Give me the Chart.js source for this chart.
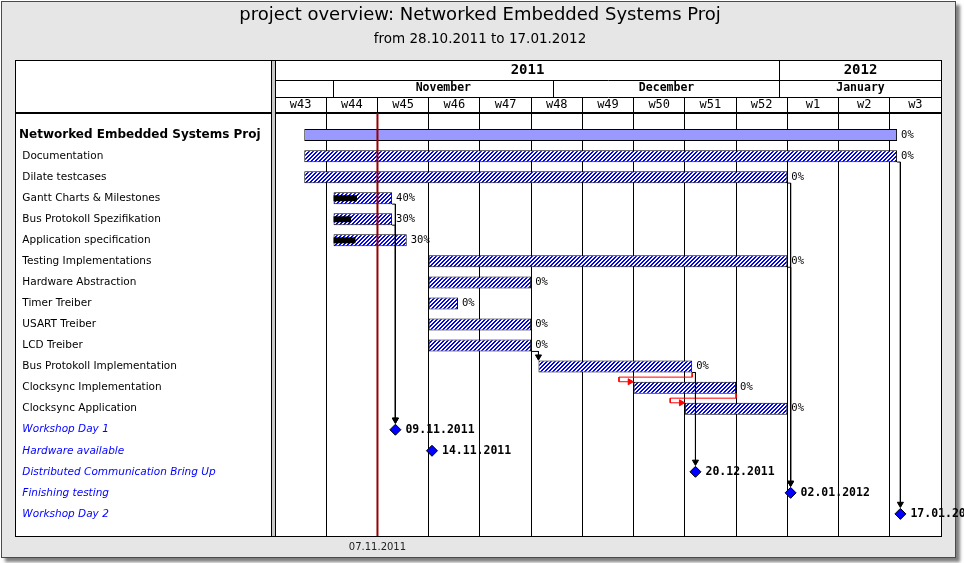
<!DOCTYPE html>
<html>
<head>
<meta charset="utf-8">
<script src="https://cdn.jsdelivr.net/npm/chart.js@4.4.0/dist/chart.umd.min.js"></script>
<style>
  html, body { margin: 0; padding: 0; background: #fff; }
</style>
</head>
<body>
<canvas id="gantt" width="964" height="563"></canvas>
<script>
// all dates are counted in days after Monday 24.10.2011 (start of w43)
const rowNames = [
  'Networked Embedded Systems Proj', 'Documentation', 'Dilate testcases',
  'Gantt Charts & Milestones', 'Bus Protokoll Spezifikation', 'Application specification',
  'Testing Implementations', 'Hardware Abstraction', 'Timer Treiber', 'USART Treiber',
  'LCD Treiber', 'Bus Protokoll Implementation', 'Clocksync Implementation',
  'Clocksync Application', 'Workshop Day 1', 'Hardware available',
  'Distributed Communication Bring Up', 'Finishing testing', 'Workshop Day 2'
];
const taskStart = [4, 4, 4, 8, 8, 8, 21, 21, 21, 21, 21, 36, 49, 56];
const taskEnd   = [85, 85, 70, 16, 16, 18, 70, 35, 25, 35, 35, 57, 63, 70];
const taskDone  = [0, 0, 0, 40, 30, 30, 0, 0, 0, 0, 0, 0, 0, 0];

const milestoneRows = [14, 15, 16, 17, 18];
const milestoneDay  = [16.45, 21.45, 57.45, 70.45, 85.45];
const milestoneDate = ['09.11.2011', '14.11.2011', '20.12.2011', '02.01.2012', '17.01.2012'];

// [from row, to row, kind]  ms = end -> milestone, fs = end -> start, late = red (violated)
const links = [
  [3, 14, 'ms'], [4, 14, 'ms'], [10, 11, 'fs'], [11, 16, 'ms'],
  [2, 17, 'ms'], [6, 17, 'ms'], [1, 18, 'ms'],
  [11, 12, 'late'], [12, 13, 'late']
];

const lastDay = 91;
const weekEdges = [0, 7, 14, 21, 28, 35, 42, 49, 56, 63, 70, 77, 84, 91];
const weekNames = ['w43', 'w44', 'w45', 'w46', 'w47', 'w48', 'w49', 'w50', 'w51', 'w52', 'w1', 'w2', 'w3'];
const monthEdges = [0, 8, 38, 69, 91];
const monthNames = ['', 'November', 'December', 'January'];
const yearEdges = [0, 69, 91];
const yearNames = ['2011', '2012'];

const todayDay = 14;
const todayText = '07.11.2011';

// ---- helpers ----
function hatch() {
  const c = document.createElement('canvas');
  c.width = 4; c.height = 4;
  const g = c.getContext('2d');
  g.fillStyle = '#ffffff'; g.fillRect(0, 0, 4, 4);
  g.fillStyle = '#0000ff';
  for (let i = 0; i < 4; i++) {
    g.fillRect(i, 3 - i, 1, 1);
    g.fillRect((i + 1) % 4, 3 - i, 1, 1);
  }
  return g.createPattern(c, 'repeat');
}
const stripes = hatch();

// header ticks: edges (drawn as separators) + centers (labels)
function headerTicks(edges) {
  const t = [];
  for (let i = 0; i < edges.length - 1; i++) {
    t.push({ value: edges[i], edge: true });
    t.push({ value: (edges[i] + edges[i + 1]) / 2, name: i });
  }
  t.push({ value: edges[edges.length - 1], edge: true });
  return t;
}
const monthTicks = headerTicks(monthEdges);
const yearTicks = headerTicks(yearEdges);

const BAR_HALF = 0.28; // half bar height in row units

const linkLines = [];
const arrowPts = [], arrowRot = [], arrowCol = [];
links.forEach(([from, to, kind]) => {
  const e = taskEnd[from];
  const yOut = from + BAR_HALF;
  if (kind === 'late') {
    const s = taskStart[to];
    const yIn = to - BAR_HALF;
    linkLines.push({ color: '#ff0000', pts: [
      { x: e, y: yOut }, { x: e, y: from + 0.5 }, { x: s - 2, y: from + 0.5 },
      { x: s - 2, y: yIn }, { x: s - 0.5, y: yIn }
    ] });
    arrowPts.push({ x: s - 0.5, y: yIn }); arrowRot.push(90); arrowCol.push('#ff0000');
  } else {
    const target = kind === 'ms' ? milestoneDay[milestoneRows.indexOf(to)] : taskStart[to];
    const tipY = to - 0.47;
    linkLines.push({ color: '#000000', pts: [
      { x: e, y: yOut }, { x: target, y: yOut }, { x: target, y: tipY }
    ] });
    arrowPts.push({ x: target, y: tipY }); arrowRot.push(180); arrowCol.push('#000000');
  }
});

const barData = taskStart.map((s, i) => ({ x: [s, taskEnd[i]], y: i }));
const doneData = [];
taskDone.forEach((d, i) => {
  if (d > 0) doneData.push({ x: [taskStart[i], taskStart[i] + (taskEnd[i] - taskStart[i]) * d / 100], y: i });
});

const datasets = [
  {
    type: 'line', label: 'today', order: 0,
    data: [{ x: todayDay, y: -1.05 }, { x: todayDay, y: 19.05 }],
    borderColor: '#990000', borderWidth: 2, pointRadius: 0, fill: false
  },
  {
    type: 'scatter', label: 'milestones', order: 1, showLine: false,
    data: milestoneDay.map((d, i) => ({ x: d, y: milestoneRows[i] })),
    pointStyle: 'rectRot', pointRadius: 5.5, pointHoverRadius: 5.5,
    pointBackgroundColor: '#0000ff', pointBorderColor: '#000', pointBorderWidth: 1
  },
  {
    type: 'scatter', label: 'arrows', order: 2, showLine: false,
    data: arrowPts,
    pointStyle: 'triangle', pointRadius: 3.5, pointHoverRadius: 3.5, pointRotation: arrowRot,
    pointBackgroundColor: arrowCol, pointBorderColor: arrowCol, pointBorderWidth: 1
  }
];
linkLines.forEach((l, i) => datasets.push({
  type: 'line', label: 'link' + i, order: 3, data: l.pts,
  borderColor: l.color, borderWidth: 1, pointRadius: 0, fill: false, tension: 0
}));
datasets.push({
  type: 'bar', label: 'done', order: 4, indexAxis: 'y', grouped: false,
  data: doneData, backgroundColor: '#000', maxBarThickness: 6, borderWidth: 0
});
datasets.push({
  type: 'bar', label: 'tasks', order: 5, indexAxis: 'y', grouped: false,
  data: barData,
  backgroundColor: barData.map((b, i) => i === 0 ? '#9999ff' : stripes),
  borderColor: '#000', borderWidth: 1, borderSkipped: false, maxBarThickness: 12
});
const taskSet = datasets.length - 1;

// ---- plugins ----
const frame = {
  id: 'frame',
  beforeDraw(chart) {
    const { ctx, width, height, chartArea } = chart;
    const top = chart.scales.xYear.top;
    const left = chart.scales.y.left - 4;
    ctx.save();
    ctx.fillStyle = '#ffffff';
    ctx.fillRect(0, 0, width, height);
    ctx.shadowColor = 'rgba(0,0,0,0.5)';
    ctx.shadowBlur = 3; ctx.shadowOffsetX = 4; ctx.shadowOffsetY = 4;
    ctx.fillStyle = '#e6e6e6';
    ctx.fillRect(1, 1, 955, 557);
    ctx.shadowColor = 'transparent';
    ctx.strokeStyle = '#4a4a4a'; ctx.lineWidth = 1;
    ctx.strokeRect(1.5, 1.5, 954, 556);
    ctx.fillStyle = '#ffffff';
    ctx.fillRect(left, top, chartArea.right - left, chartArea.bottom - top);
    ctx.restore();
  },
  afterDraw(chart) {
    const { ctx, chartArea } = chart;
    const top = chart.scales.xYear.top;
    const left = chart.scales.y.left - 4;
    ctx.save();
    ctx.fillStyle = '#c8c8c8';
    ctx.fillRect(chartArea.left - 3, top, 3, chartArea.bottom - top);
    ctx.strokeStyle = '#000'; ctx.lineWidth = 1;
    ctx.strokeRect(left + 0.5, top + 0.5, chartArea.right - left, chartArea.bottom - top);
    ctx.beginPath();
    ctx.moveTo(chartArea.left - 3.5, top); ctx.lineTo(chartArea.left - 3.5, chartArea.bottom);
    ctx.stroke();
    ctx.lineWidth = 2;
    ctx.beginPath();
    ctx.moveTo(left, chartArea.top); ctx.lineTo(chartArea.left - 3, chartArea.top);
    ctx.stroke();
    ctx.restore();
  }
};

const texts = {
  id: 'texts',
  afterDatasetsDraw(chart) {
    const ctx = chart.ctx;
    ctx.save();
    ctx.textBaseline = 'middle';
    ctx.fillStyle = '#000';
    // percent done next to each bar
    ctx.font = '10.5px "DejaVu Sans Mono"';
    chart.getDatasetMeta(taskSet).data.forEach((b, i) => {
      ctx.fillText(taskDone[i] + '%', Math.max(b.x, b.base) + 4, b.y);
    });
    // milestone dates
    ctx.font = 'bold 11.5px "DejaVu Sans Mono"';
    chart.getDatasetMeta(1).data.forEach((p, i) => {
      ctx.fillText(milestoneDate[i], p.x + 10, p.y);
    });
    // today marker text
    ctx.font = '10px "DejaVu Sans"';
    ctx.fillStyle = '#222';
    ctx.textAlign = 'center';
    ctx.fillText(todayText, chart.scales.x.getPixelForValue(todayDay), chart.chartArea.bottom + 11);
    ctx.restore();
  }
};

function rowFont(i) {
  if (i === 0) return { family: 'DejaVu Sans', size: 12, weight: 'bold' };
  if (i >= 14) return { family: 'DejaVu Sans', size: 10.5, style: 'italic' };
  return { family: 'DejaVu Sans', size: 10.5 };
}

Chart.defaults.font.family = 'DejaVu Sans';

new Chart(document.getElementById('gantt').getContext('2d'), {
  type: 'bar',
  data: { datasets: datasets },
  options: {
    responsive: false,
    devicePixelRatio: 1,
    animation: false,
    events: [],
    layout: { padding: { left: 19, right: 23, top: 0, bottom: 27 } },
    plugins: {
      legend: { display: false },
      tooltip: { enabled: false },
      title: {
        display: true, text: 'project overview: Networked Embedded Systems Proj', color: '#000',
        font: { size: 18, weight: 'normal' }, padding: { top: 5, bottom: 2 }
      },
      subtitle: {
        display: true, text: 'from 28.10.2011 to 17.01.2012', color: '#000',
        font: { size: 13.5 }, padding: { top: 3, bottom: 12.2 }
      }
    },
    scales: {
      x: {
        type: 'linear', axis: 'x', position: 'top', weight: 1, min: 0, max: lastDay, offset: false,
        afterBuildTicks: (s) => { s.ticks = weekEdges.map(v => ({ value: v })); },
        afterFit: (s) => { s.height = 16; s.paddingLeft = 0; s.paddingRight = 0; },
        grid: { offset: false, color: '#000', lineWidth: 1, drawTicks: true, tickLength: 16 },
        border: { display: true, color: '#000', width: 2 },
        ticks: {
          autoSkip: false, maxRotation: 0, minRotation: 0, labelOffset: 25.6, padding: -15.2,
          color: '#000', font: { family: 'DejaVu Sans Mono', size: 12 },
          callback: (v, i) => weekNames[i] || ''
        }
      },
      xMonth: {
        type: 'linear', axis: 'x', position: 'top', weight: 2, min: 0, max: lastDay, offset: false,
        afterBuildTicks: (s) => { s.ticks = monthTicks.map(t => ({ value: t.value })); },
        afterFit: (s) => { s.height = 17; s.paddingLeft = 0; s.paddingRight = 0; },
        grid: {
          offset: false, drawOnChartArea: false, drawTicks: true, tickLength: 17, lineWidth: 1,
          color: (c) => monthTicks[c.index] && monthTicks[c.index].edge ? '#000' : 'rgba(0,0,0,0)'
        },
        border: { display: true, color: '#000', width: 1 },
        ticks: {
          autoSkip: false, maxRotation: 0, minRotation: 0, padding: -15.4,
          color: '#000', font: { family: 'DejaVu Sans Mono', size: 11.5, weight: 'bold' },
          callback: (v, i) => monthTicks[i].edge ? '' : monthNames[monthTicks[i].name]
        }
      },
      xYear: {
        type: 'linear', axis: 'x', position: 'top', weight: 3, min: 0, max: lastDay, offset: false,
        afterBuildTicks: (s) => { s.ticks = yearTicks.map(t => ({ value: t.value })); },
        afterFit: (s) => { s.height = 20; s.paddingLeft = 0; s.paddingRight = 0; },
        grid: {
          offset: false, drawOnChartArea: false, drawTicks: true, tickLength: 20, lineWidth: 1,
          color: (c) => yearTicks[c.index] && yearTicks[c.index].edge ? '#000' : 'rgba(0,0,0,0)'
        },
        border: { display: true, color: '#000', width: 1 },
        ticks: {
          autoSkip: false, maxRotation: 0, minRotation: 0, padding: -18.4,
          color: '#000', font: { family: 'DejaVu Sans Mono', size: 14, weight: 'bold' },
          callback: (v, i) => yearTicks[i].edge ? '' : yearNames[yearTicks[i].name]
        }
      },
      y: {
        type: 'linear', position: 'left', reverse: true, min: -1.05, max: 19.05, offset: false,
        afterBuildTicks: (s) => { s.ticks = rowNames.map((n, i) => ({ value: i })); },
        afterFit: (s) => { s.width = 256; s.paddingTop = 0; s.paddingBottom = 0; },
        grid: { display: false },
        border: { display: false },
        ticks: {
          autoSkip: false, crossAlign: 'far', padding: 0,
          callback: (v) => (v === 0 ? '' : ' ') + rowNames[v],
          font: (c) => rowFont(c.index),
          color: (c) => c.index >= 14 ? '#0000ff' : '#000'
        }
      }
    }
  },
  plugins: [frame, texts]
});
</script>
</body>
</html>
